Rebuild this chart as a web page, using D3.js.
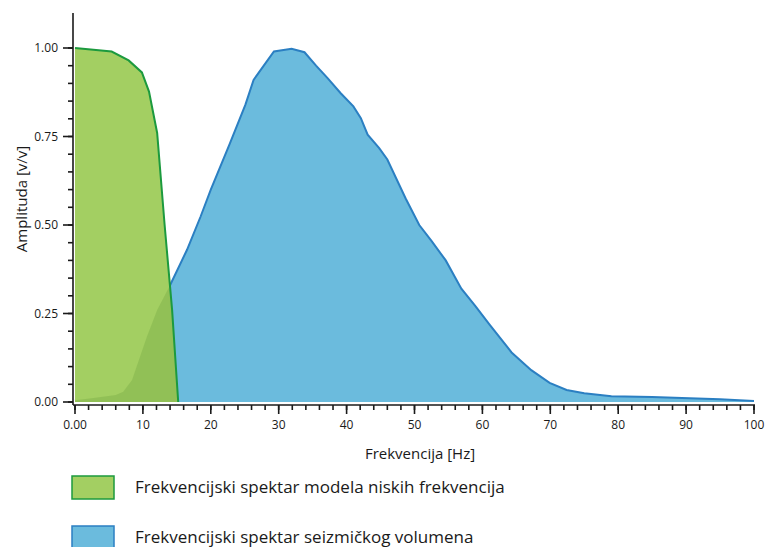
<!DOCTYPE html>
<html>
<head>
<meta charset="utf-8">
<script src="https://cdn.jsdelivr.net/npm/d3@7"></script>
<style>
  body { margin: 0; background: #fff; }
  svg { font-family: "Open Sans", "Noto Sans", sans-serif; }
  .axis path, .axis line { stroke: #1a1a1a; stroke-width: 1.6; }
  .axis text { font-size: 12px; fill: #1a1a1a; }
</style>
</head>
<body>
<div id="chart"></div>
<script>
// values
const lowFreqHz = [0, 5.4, 7.9, 9.85, 10.9, 12.1, 13.2, 14.3, 15.2];
const lowFreqAmp = [1.0, 0.99, 0.965, 0.931, 0.877, 0.76, 0.5, 0.26, 0.0];

const seismicHz = [0, 3, 6, 7.1, 8.4, 10.6, 12.1, 14.0, 16.5, 18.5, 20, 22.8, 25.1, 26.3, 27.8, 29.3, 31.9, 33.8,
  35.5, 37.2, 39.1, 41, 42.1, 43.1, 44.8, 46, 48.7, 50.7, 52.5, 54.6, 56.9, 59, 61, 64.3, 67.2, 69.9, 72.4, 75, 79, 85, 89.4, 95, 100];
const seismicAmp = [0.005, 0.012, 0.02, 0.029, 0.062, 0.185, 0.26, 0.33, 0.43, 0.524, 0.6, 0.73, 0.84, 0.91, 0.95, 0.99, 0.998, 0.988,
  0.95, 0.915, 0.873, 0.835, 0.802, 0.755, 0.717, 0.685, 0.575, 0.5, 0.455, 0.40, 0.32, 0.27, 0.22, 0.14, 0.09, 0.054, 0.034, 0.025, 0.016, 0.014, 0.011, 0.008, 0.003];

const xMajorTicks = [0, 10, 20, 30, 40, 50, 60, 70, 80, 90, 100];
const yMajorTicks = [0, 0.25, 0.5, 0.75, 1.0];

const legendLabels = [
  'Frekvencijski spektar modela niskih frekvencija',
  'Frekvencijski spektar seizmičkog volumena'
];

const width = 769, height = 547;

const svg = d3.select('#chart').append('svg')
  .attr('width', width)
  .attr('height', height);

const x = d3.scaleLinear().domain([0, 100]).range([75, 754]);
const y = d3.scaleLinear().domain([0, 1]).range([402, 48]);

const lowData = lowFreqHz.map((d, i) => ({ f: d, a: lowFreqAmp[i] }));
const seisData = seismicHz.map((d, i) => ({ f: d, a: seismicAmp[i] }));

const area = d3.area()
  .x(d => x(d.f))
  .y0(y(0))
  .y1(d => y(d.a));
const line = d3.line()
  .x(d => x(d.f))
  .y(d => y(d.a));

const defs = svg.append('defs');
defs.append('clipPath').attr('id', 'lowClip')
  .append('path').attr('d', area(lowData));

// seismic spectrum
svg.append('path')
  .attr('d', area(seisData))
  .attr('fill', '#6bbbdd');
svg.append('path')
  .attr('d', line(seisData))
  .attr('fill', 'none')
  .attr('stroke', '#2b7fc2')
  .attr('stroke-width', 2);

// low-frequency model spectrum on top
svg.append('path')
  .attr('d', area(lowData))
  .attr('fill', '#a3cf62');
// overlap shading
svg.append('path')
  .attr('d', area(seisData))
  .attr('clip-path', 'url(#lowClip)')
  .attr('fill', '#6a9f3a')
  .attr('fill-opacity', 0.3);
svg.append('path')
  .attr('d', line(lowData))
  .attr('fill', 'none')
  .attr('stroke', '#1c9a3e')
  .attr('stroke-width', 2);

// axes
const yAxisX = 73, xAxisY = 405;
const yAxis = svg.append('g').attr('class', 'axis').attr('transform', `translate(${yAxisX},0)`);
yAxis.append('line').attr('x1', 0).attr('x2', 0).attr('y1', 13).attr('y2', xAxisY);
yAxis.selectAll('.minor').data(d3.range(0, 1.0001, 0.05))
  .join('line')
  .attr('x1', -5).attr('x2', 0)
  .attr('y1', d => y(d)).attr('y2', d => y(d));
yAxis.selectAll('.major').data(yMajorTicks)
  .join('line')
  .attr('x1', -10).attr('x2', 0)
  .attr('y1', d => y(d)).attr('y2', d => y(d));
yAxis.selectAll('text').data(yMajorTicks)
  .join('text')
  .attr('x', -15).attr('y', d => y(d))
  .attr('dy', '0.35em')
  .attr('text-anchor', 'end')
  .text(d3.format('.2f'));

const xAxis = svg.append('g').attr('class', 'axis').attr('transform', `translate(0,${xAxisY})`);
xAxis.append('line').attr('x1', yAxisX).attr('x2', x(100) + 1).attr('y1', 0).attr('y2', 0);
xAxis.selectAll('.minor').data(d3.range(0, 100.001, 2))
  .join('line')
  .attr('x1', d => x(d)).attr('x2', d => x(d))
  .attr('y1', 0).attr('y2', 5);
xAxis.selectAll('.major').data(xMajorTicks)
  .join('line')
  .attr('x1', d => x(d)).attr('x2', d => x(d))
  .attr('y1', 0).attr('y2', 9);
xAxis.selectAll('text').data(xMajorTicks)
  .join('text')
  .attr('x', d => x(d)).attr('y', 24)
  .attr('text-anchor', 'middle')
  .text(d => d === 0 ? '0.00' : d);

// axis titles
svg.append('text')
  .attr('x', 420).attr('y', 459)
  .attr('text-anchor', 'middle')
  .attr('font-size', 15)
  .attr('fill', '#1a1a1a')
  .text('Frekvencija [Hz]');
svg.append('text')
  .attr('transform', 'translate(27,199) rotate(-90)')
  .attr('text-anchor', 'middle')
  .attr('font-size', 15)
  .attr('fill', '#1a1a1a')
  .text('Amplituda [v/v]');

// legend
const legendFill = ['#a3cf62', '#6bbbdd'];
const legendStroke = ['#1c9a3e', '#2b7fc2'];
const legend = svg.selectAll('.legend').data(legendLabels)
  .join('g')
  .attr('class', 'legend')
  .attr('transform', (d, i) => `translate(72,${476 + i * 50})`);
legend.append('rect')
  .attr('width', 42).attr('height', 23)
  .attr('fill', (d, i) => legendFill[i])
  .attr('stroke', (d, i) => legendStroke[i])
  .attr('stroke-width', 1.5);
legend.append('text')
  .attr('x', 63).attr('y', 17)
  .attr('font-size', 17)
  .attr('fill', '#1a1a1a')
  .text(d => d);
</script>
</body>
</html>
